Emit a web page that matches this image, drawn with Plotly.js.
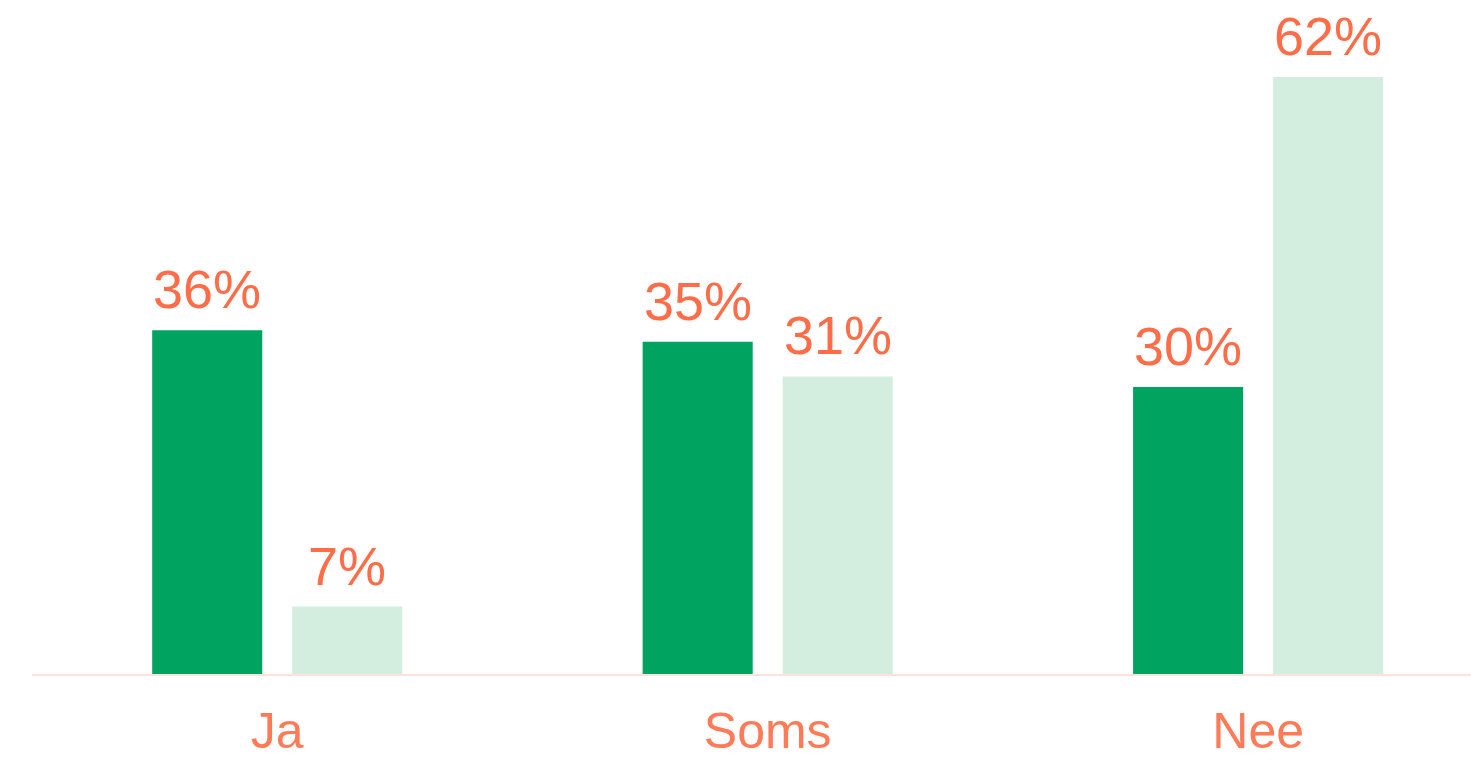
<!DOCTYPE html>
<html>
<head>
<meta charset="utf-8">
<script src="https://cdn.plot.ly/plotly-3.0.1.min.js"></script>
<style>html,body{margin:0;padding:0;background:#fff;}#chart{width:1471px;height:762px;}</style>
</head>
<body>
<div id="chart"></div>
<script>
const categories = ["Ja", "Soms", "Nee"];
const seriesA = [35.7, 34.5, 29.8];
const seriesB = [7.0, 30.9, 62.0];
const labelsA = ["36%", "35%", "30%"];
const labelsB = ["7%", "31%", "62%"];

const FONT = "Liberation Sans, Arial, sans-serif";
const labelFont = {family: FONT, size: 54, color: "#FF6D48"};

const traces = [
  {type: "bar", x: categories, y: seriesA, marker: {color: "#00A35F"}, hoverinfo: "none"},
  {type: "bar", x: categories, y: seriesB, marker: {color: "#D3EDDF"}, hoverinfo: "none"}
];

const annotations = [];
categories.forEach((c, i) => {
  annotations.push({x: c, y: seriesA[i], text: labelsA[i], showarrow: false,
    xanchor: "center", yanchor: "bottom", xshift: -70, yshift: 9, font: labelFont});
  annotations.push({x: c, y: seriesB[i], text: labelsB[i], showarrow: false,
    xanchor: "center", yanchor: "bottom", xshift: 70, yshift: 9, font: labelFont});
});

const layout = {
  width: 1471, height: 762,
  margin: {l: 32, r: 0, t: 0, b: 88},
  paper_bgcolor: "#ffffff", plot_bgcolor: "#ffffff",
  barmode: "group", bargap: 0.429, bargroupgap: 0.214,
  showlegend: false,
  annotations: annotations,
  xaxis: {
    type: "category", range: [-0.5, 2.434],
    showgrid: false, zeroline: false,
    showline: true, linecolor: "#FFE3DA", linewidth: 2,
    ticks: "", ticklabelstandoff: 12,
    tickfont: {family: FONT, size: 50, color: "#FF7B57"}
  },
  yaxis: {range: [0, 70], visible: false, showgrid: false, zeroline: false, fixedrange: true}
};

Plotly.newPlot("chart", traces, layout, {displayModeBar: false, staticPlot: true});
</script>
</body>
</html>
